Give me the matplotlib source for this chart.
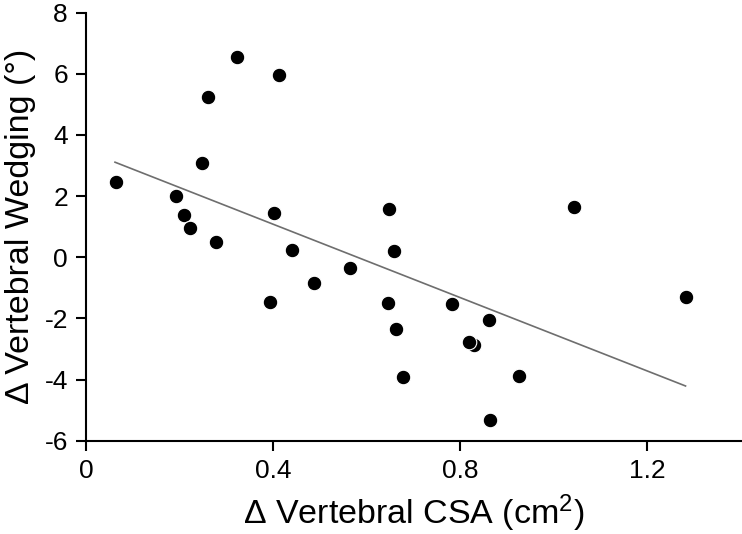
import matplotlib
matplotlib.use("Agg")
import matplotlib.pyplot as plt

plt.rcParams['font.family'] = ['Liberation Sans', 'DejaVu Sans']
plt.rcParams['axes.unicode_minus'] = False
plt.rcParams['mathtext.fontset'] = 'custom'
plt.rcParams['mathtext.rm'] = 'Liberation Sans'
plt.rcParams['mathtext.it'] = 'Liberation Sans'

# Data
csa_change = [0.322, 0.413, 0.261, 0.247, 0.064, 0.192, 0.210, 0.222, 0.279,
              0.402, 0.441, 0.393, 0.487, 0.564, 0.647, 0.659, 0.645, 0.663,
              0.678, 0.782, 0.830, 0.819, 0.862, 0.864, 0.926, 1.043, 1.282]
wedging_change = [6.56, 5.96, 5.23, 3.07, 2.47, 2.01, 1.39, 0.96, 0.51,
                  1.46, 0.24, -1.45, -0.85, -0.34, 1.57, 0.22, -1.49, -2.34,
                  -3.91, -1.54, -2.87, -2.76, -2.06, -5.33, -3.87, 1.66, -1.31]
fit_x = [0.062, 1.282]
fit_y = [3.11, -4.21]
x_ticks = [0, 0.4, 0.8, 1.2]
x_tick_labels = ['0', '0.4', '0.8', '1.2']
y_ticks = [-6, -4, -2, 0, 2, 4, 6, 8]

fig = plt.figure(figsize=(7.42, 5.34), dpi=100)
ax = fig.add_axes([86/742, 1 - 440.7/534, (740.7-86)/742, (440.7-12.7)/534])

ax.plot(fit_x, fit_y, color='#6e6e6e', lw=1.2, zorder=2)
ax.plot(csa_change, wedging_change, 'o', color='black', markersize=10.5,
        markeredgecolor='white', markeredgewidth=0.8, zorder=3)

ax.set_xlim(0, 1.4)
ax.set_ylim(-6, 8)
ax.set_xticks(x_ticks)
ax.set_xticklabels(x_tick_labels)
ax.set_yticks(y_ticks)

for s in ['top', 'right']:
    ax.spines[s].set_visible(False)
for s in ['left', 'bottom']:
    ax.spines[s].set_linewidth(1.5)
    ax.spines[s].set_color('black')
ax.tick_params(direction='out', length=7, width=1.5, labelsize=19, colors='black', pad=6)

ax.set_xlabel('Δ Vertebral CSA (cm$^{2}$)', fontsize=24.5, labelpad=7)
ax.set_ylabel('Δ Vertebral Wedging (°)', fontsize=24.5, labelpad=6)

fig.savefig('out.png', dpi=100)
